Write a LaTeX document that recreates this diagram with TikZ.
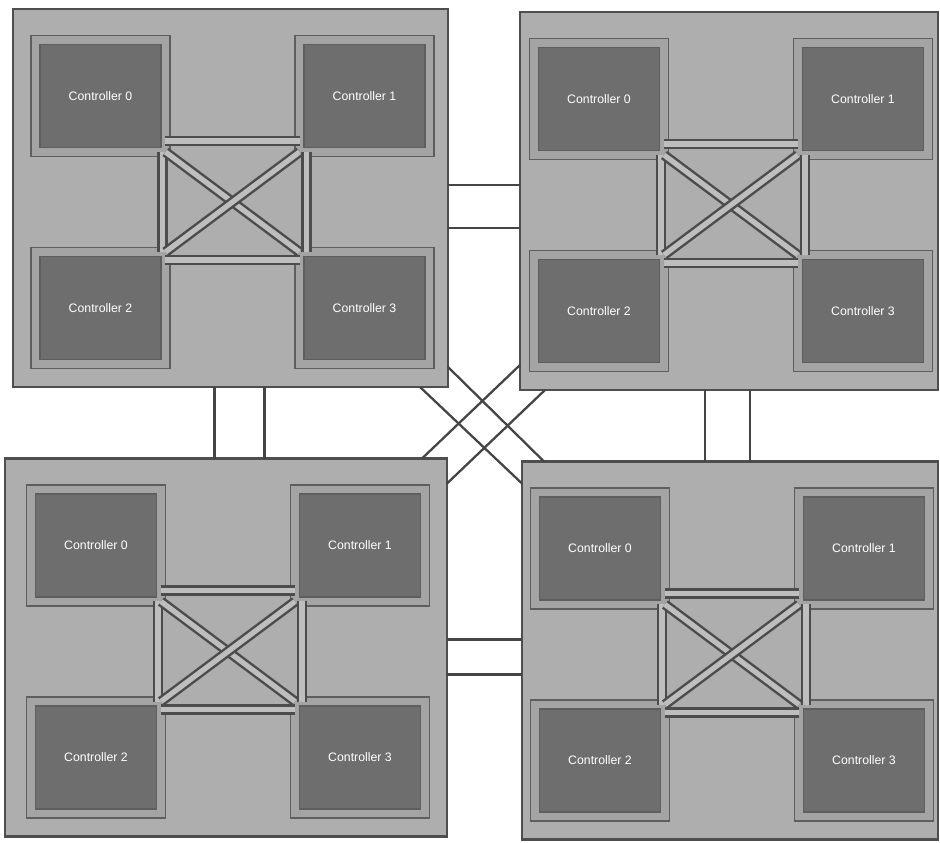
\documentclass[tikz,border=0pt]{standalone}
\usepackage{fontspec}
\setsansfont{Liberation Sans}
\usetikzlibrary{calc}
\definecolor{panelgray}{HTML}{AEAEAE}
\definecolor{edgegray}{HTML}{4E4E4E}
\definecolor{framegray}{HTML}{A4A4A4}
\definecolor{framedark}{HTML}{5E5E5E}
\definecolor{ctrlgray}{HTML}{6E6E6E}
\definecolor{linkdark}{HTML}{4C4C4C}
\definecolor{linklight}{HTML}{BEBEBE}
\definecolor{busgray}{HTML}{454545}

\begin{document}
\begin{tikzpicture}[
  x=0.02cm, y=-0.02cm,
  panel/.style={draw=edgegray, line width=1.4pt, fill=panelgray,
                inner sep=0pt, outer sep=0pt, minimum height=7.56cm},
  ctrl/.style={draw=framedark, double=framegray, double distance=4.2pt,
               line width=0.9pt, fill=ctrlgray, inner sep=0pt, outer sep=0pt,
               minimum width=2.6cm, minimum height=2.24cm,
               font=\fontsize{7}{8}\selectfont\sffamily, text=white!92},
  dbl/.style={draw=linkdark, double=linklight, double distance=3pt, line width=1.4pt},
  bus/.style={draw=busgray, line width=1.3pt}
]
  \useasboundingbox (0,0) rectangle (940,842);

  % the four panels
  \node[panel, minimum width=8.7cm]  (pTL) at (230.5,198) {};
  \node[panel, minimum width=8.36cm] (pTR) at (729,201) {};
  \node[panel, minimum width=8.84cm] (pBL) at (226,647.5) {};
  \node[panel, minimum width=8.32cm] (pBR) at (730,650.5) {};

  % controllers inside each panel
  \foreach \p in {pTL,pTR,pBL,pBR}{
    \node[ctrl] (\p-c0) at ($(\p)+(-130,-102)$) {Controller 0};
    \node[ctrl] (\p-c1) at ($(\p)+(134,-102)$)  {Controller 1};
    \node[ctrl] (\p-c2) at ($(\p)+(-130,110)$)  {Controller 2};
    \node[ctrl] (\p-c3) at ($(\p)+(134,110)$)   {Controller 3};
    \draw[dbl] ($(\p-c0.east)+(0,45)$)   -- ($(\p-c1.west)+(0,45)$);
    \draw[dbl] ($(\p-c2.east)+(0,-48)$)  -- ($(\p-c3.west)+(0,-48)$);
    \draw[dbl] ($(\p-c0.south)+(62,0)$)  -- ($(\p-c2.north)+(62,0)$);
    \draw[dbl] ($(\p-c1.south)+(-58,0)$) -- ($(\p-c3.north)+(-58,0)$);
    \draw[dbl] (\p-c0.south east) -- (\p-c3.north west);
    \draw[dbl] (\p-c1.south west) -- (\p-c2.north east);
  }

  % links between panels
  \coordinate (h1) at ($(pTL.east)+(0,-13)$);
  \coordinate (h2) at ($(pTL.east)+(0,30)$);
  \coordinate (h3) at ($(pBL.east)+(0,-8)$);
  \coordinate (h4) at ($(pBL.east)+(0,27)$);
  \coordinate (v1) at ($(pTL.south)+(-16,0)$);
  \coordinate (v2) at ($(pTL.south)+(34,0)$);
  \coordinate (v3) at ($(pTR.south)+(-24,0)$);
  \coordinate (v4) at ($(pTR.south)+(21,0)$);
  \draw[bus] (h1) -- (h1 -| pTR.west);
  \draw[bus] (h2) -- (h2 -| pTR.west);
  \draw[bus] (h3) -- (h3 -| pBR.west);
  \draw[bus] (h4) -- (h4 -| pBR.west);
  \draw[bus] (v1) -- (v1 |- pBL.north);
  \draw[bus] (v2) -- (v2 |- pBL.north);
  \draw[bus] (v3) -- (v3 |- pBR.north);
  \draw[bus] (v4) -- (v4 |- pBR.north);

  % diagonal links
  \draw[bus] ($(pTL.south east)+(0,-20)$) -- ($(pBR.north west)+(22,0)$);
  \draw[bus] ($(pTL.south east)+(-28,0)$) -- ($(pBR.north west)+(0,22)$);
  \draw[bus] ($(pTR.south west)+(0,-25)$) -- ($(pBL.north east)+(-25,0)$);
  \draw[bus] ($(pTR.south west)+(25,0)$)  -- ($(pBL.north east)+(0,25)$);
\end{tikzpicture}
\end{document}
